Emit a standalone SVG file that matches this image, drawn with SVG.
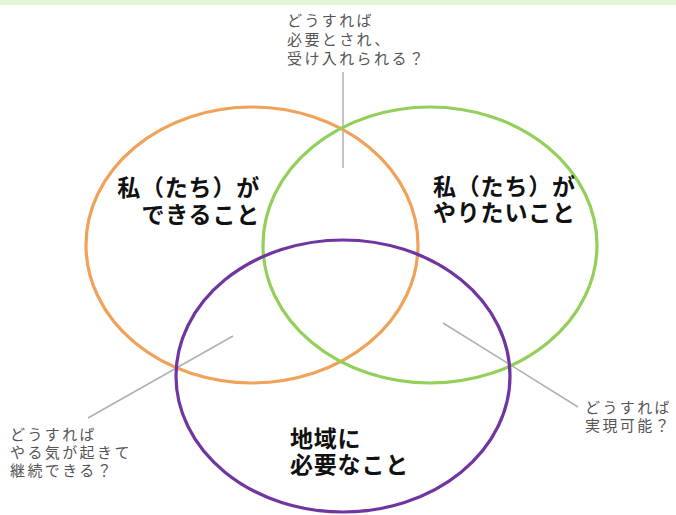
<svg xmlns="http://www.w3.org/2000/svg" width="676" height="515" viewBox="0 0 676 515">
<style>
.c{fill:none;stroke-width:3.2}
.lead{stroke:#a9b1b8;stroke-width:1.5;fill:none}
.s{font-family:"Noto Sans CJK JP","Noto Sans",sans-serif;font-size:15px;letter-spacing:2.4px;fill:#555}
.b{font-family:"Noto Sans CJK JP","Noto Sans",sans-serif;font-size:23px;letter-spacing:0.8px;font-weight:700;fill:#111}
</style>
<rect x="0" y="0" width="676" height="5" fill="#e3f5d2"/>
<g id="connectors">
<line class="lead" x1="343" y1="72" x2="343" y2="168"/>
<line class="lead" x1="233" y1="336" x2="88" y2="418"/>
<line class="lead" x1="443" y1="323" x2="578" y2="407"/>
</g>
<g id="node-can">
<ellipse class="c" cx="252" cy="245" rx="166" ry="138" stroke="#f0a15a"/>
<text class="b" text-anchor="end" x="260" y="196">私（たち）が</text>
<text class="b" text-anchor="end" x="260" y="223">できること</text>
</g>
<g id="node-want">
<ellipse class="c" cx="430" cy="245" rx="167" ry="138" stroke="#93cf5a"/>
<text class="b" x="433" y="195">私（たち）が</text>
<text class="b" x="433" y="221">やりたいこと</text>
</g>
<g id="node-need">
<ellipse class="c" cx="343" cy="376" rx="167" ry="136" stroke="#7035a0"/>
<text class="b" x="290" y="447">地域に</text>
<text class="b" x="290" y="473">必要なこと</text>
</g>
<g id="label-top">
<text class="s" x="287" y="26">どうすれば</text>
<text class="s" x="287" y="45">必要とされ、</text>
<text class="s" x="287" y="64">受け入れられる？</text>
</g>
<g id="label-left">
<text class="s" x="10" y="440">どうすれば</text>
<text class="s" x="10" y="458">やる気が起きて</text>
<text class="s" x="10" y="476">継続できる？</text>
</g>
<g id="label-right">
<text class="s" x="585" y="413">どうすれば</text>
<text class="s" x="585" y="431">実現可能？</text>
</g>
</svg>
